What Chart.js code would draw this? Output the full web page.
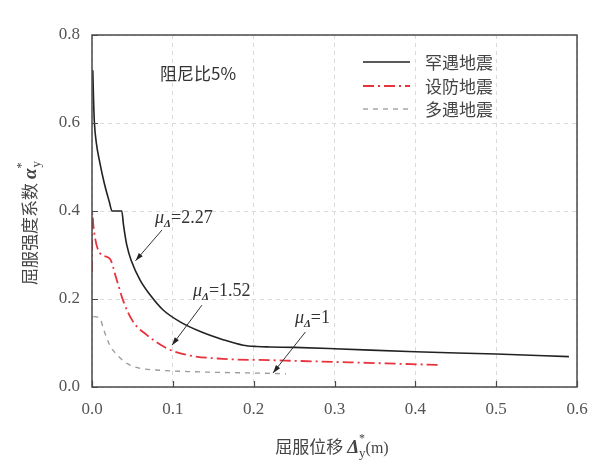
<!DOCTYPE html>
<html><head><meta charset="utf-8">
<script src="https://cdn.jsdelivr.net/npm/chart.js@4.4.1/dist/chart.umd.min.js"></script>
<style>html,body{margin:0;padding:0;background:#fff}#wrap{width:604px;height:468px}</style>
</head><body><div id="wrap"><canvas id="c" width="604" height="468"></canvas></div>
<script>
// ---- data ----
const rareX = [0.001,0.0018,0.0029,0.0055,0.009,0.0152,0.0214,0.0248,0.0368,0.039,0.043,0.049,0.0595,0.072,0.088,0.109,0.134,0.163,0.187,0.204,0.22,0.25,0.30,0.40,0.50,0.59];
const rareY = [0.720,0.660,0.603,0.553,0.516,0.463,0.421,0.400,0.400,0.368,0.323,0.285,0.243,0.209,0.175,0.148,0.126,0.107,0.095,0.092,0.091,0.090,0.087,0.080,0.075,0.069];
const designX = [0.000,0.0005,0.0016,0.0099,0.022,0.030,0.039,0.051,0.068,0.0925,0.117,0.162,0.220,0.300,0.431];
const designY = [0.262,0.395,0.368,0.304,0.292,0.247,0.194,0.148,0.118,0.088,0.073,0.064,0.061,0.057,0.050];
const freqX = [0.0016,0.0099,0.014,0.022,0.031,0.043,0.0595,0.080,0.121,0.220,0.240];
const freqY = [0.160,0.156,0.133,0.095,0.073,0.054,0.0425,0.0386,0.035,0.031,0.030];
const seriesNames = ['罕遇地震','设防地震','多遇地震'];
const xTicks = [0,0.1,0.2,0.3,0.4,0.5,0.6];
const yTicks = [0,0.2,0.4,0.6,0.8];
const muValues = ['2.27','1.52','1'];

// ---- annotation placement (data units) ----
const annoPos = [
  {tx:0.078, ty:0.386, x1:0.0867, y1:0.357, x2:0.0539, y2:0.287},
  {tx:0.125, ty:0.220, x1:0.136,  y1:0.186, x2:0.099,  y2:0.095},
  {tx:0.251, ty:0.159, x1:0.264,  y1:0.125, x2:0.224,  y2:0.032}
];

const pts = (xs, ys) => xs.map((v,i)=>({x:v, y:ys[i]}));
const SERIF = '"Liberation Serif","DejaVu Serif",serif';
const CJK = '"Noto Sans CJK SC","Noto Sans",sans-serif';

const styles = [
  {borderColor:'#222', borderWidth:1.6, borderDash:[]},
  {borderColor:'#e8323c', borderWidth:1.8, borderDash:[11,4,2,4]},
  {borderColor:'#9a9a9a', borderWidth:1.3, borderDash:[5,5]}
];

function drawRich(ctx, parts, x, y, align){
  let w = 0;
  parts.forEach(p=>{ctx.font=p.font; p.w=ctx.measureText(p.t).width; w+=p.w + (p.gap||0);});
  let cx = align==='center' ? x - w/2 : x;
  parts.forEach(p=>{ctx.font=p.font; ctx.fillText(p.t, cx, y + (p.dy||0)); cx += p.w + (p.gap||0);});
}

const deco = {
  id:'deco',
  afterDraw(chart){
    const {ctx, chartArea:a, scales:{x, y}} = chart;
    ctx.save();
    ctx.strokeStyle='#4a4a4a'; ctx.lineWidth=1.5; ctx.setLineDash([]);
    ctx.strokeRect(a.left, a.top, a.right-a.left, a.bottom-a.top);
    ctx.lineWidth=1.2;
    ctx.beginPath();
    xTicks.forEach(v=>{const px=Math.round(x.getPixelForValue(v))+0.5; ctx.moveTo(px,a.bottom); ctx.lineTo(px,a.bottom-6);});
    yTicks.forEach(v=>{const py=Math.round(y.getPixelForValue(v))+0.5; ctx.moveTo(a.left,py); ctx.lineTo(a.left+6,py);});
    ctx.stroke();

    ctx.fillStyle='#333'; ctx.textBaseline='middle'; ctx.textAlign='left';
    ctx.font='17px '+CJK;
    ctx.fillText('阻尼比5%', 160, 74);

    chart.data.datasets.forEach((ds,i)=>{
      const ly = [62,86,109][i];
      ctx.strokeStyle=ds.borderColor; ctx.lineWidth=ds.borderWidth; ctx.setLineDash(ds.borderDash);
      ctx.beginPath(); ctx.moveTo(363,ly); ctx.lineTo(410,ly); ctx.stroke();
      ctx.setLineDash([]);
      ctx.fillStyle='#444'; ctx.font='17px '+CJK;
      ctx.fillText(ds.label, 425, ly+1);
    });

    ctx.setLineDash([]);
    annoPos.forEach((p,i)=>{
      const x1=x.getPixelForValue(p.x1), y1=y.getPixelForValue(p.y1);
      const x2=x.getPixelForValue(p.x2), y2=y.getPixelForValue(p.y2);
      ctx.strokeStyle='#333'; ctx.lineWidth=1;
      ctx.beginPath(); ctx.moveTo(x1,y1); ctx.lineTo(x2,y2); ctx.stroke();
      const ang=Math.atan2(y2-y1,x2-x1), L=8, W=2.6;
      ctx.fillStyle='#222';
      ctx.beginPath();
      ctx.moveTo(x2,y2);
      ctx.lineTo(x2-L*Math.cos(ang)+W*Math.sin(ang), y2-L*Math.sin(ang)-W*Math.cos(ang));
      ctx.lineTo(x2-L*Math.cos(ang)-W*Math.sin(ang), y2-L*Math.sin(ang)+W*Math.cos(ang));
      ctx.closePath(); ctx.fill();
      const tx=x.getPixelForValue(p.tx), ty=y.getPixelForValue(p.ty);
      ctx.fillStyle='#333'; ctx.textAlign='left'; ctx.textBaseline='alphabetic';
      drawRich(ctx,[
        {t:'μ', font:'italic 18px '+SERIF},
        {t:'Δ', font:'italic bold 11px '+SERIF, dy:4},
        {t:'=' + muValues[i], font:'18px '+SERIF}
      ], tx, ty+6, 'left');
    });

    ctx.fillStyle='#444'; ctx.textBaseline='alphabetic';
    drawRich(ctx,[
      {t:'屈服位移 ', font:'17px '+CJK},
      {t:'Δ', font:'italic bold 19px '+SERIF},
      {t:'*', font:'12px '+SERIF, dy:-11, gap:-6},
      {t:'y', font:'13px '+SERIF, dy:4},
      {t:'(m)', font:'16px '+SERIF}
    ], 332, 453, 'center');
    ctx.save();
    ctx.translate(30, 223); ctx.rotate(-Math.PI/2);
    drawRich(ctx,[
      {t:'屈服强度系数 ', font:'17px '+CJK},
      {t:'α', font:'italic bold 19px '+SERIF},
      {t:'*', font:'12px '+SERIF, dy:-11, gap:-5},
      {t:'y', font:'13px '+SERIF, dy:4}
    ], 0, 6, 'center');
    ctx.restore();
    ctx.restore();
  }
};

const tickFont = {family:SERIF, size:17};
new Chart(document.getElementById('c'), {
  type:'line',
  data:{datasets:[
    {label:seriesNames[0], data:pts(rareX,rareY), ...styles[0]},
    {label:seriesNames[1], data:pts(designX,designY), ...styles[1]},
    {label:seriesNames[2], data:pts(freqX,freqY), ...styles[2]}
  ].map(d=>({...d, pointRadius:0, fill:false, cubicInterpolationMode:'monotone'}))},
  options:{
    responsive:false, animation:false, devicePixelRatio:1,
    layout:{padding:{left:0, top:35, right:27, bottom:0}},
    plugins:{legend:{display:false}, tooltip:{enabled:false}},
    scales:{
      x:{type:'linear', min:0, max:0.6,
         afterFit:s=>{s.height=81;},
         afterBuildTicks:s=>{s.ticks=xTicks.map(v=>({value:v}));},
         ticks:{font:tickFont, color:'#555', padding:12, callback:v=>v.toFixed(1)},
         grid:{color:'#dadada', lineWidth:1, drawTicks:false},
         border:{display:false, dash:[4,4]}},
      y:{type:'linear', min:0, max:0.8,
         afterFit:s=>{s.width=92;},
         afterBuildTicks:s=>{s.ticks=yTicks.map(v=>({value:v}));},
         ticks:{font:tickFont, color:'#555', padding:12, callback:v=>v.toFixed(1)},
         grid:{color:'#dadada', lineWidth:1, drawTicks:false},
         border:{display:false, dash:[4,4]}}
    }
  },
  plugins:[deco]
});
</script></body></html>
